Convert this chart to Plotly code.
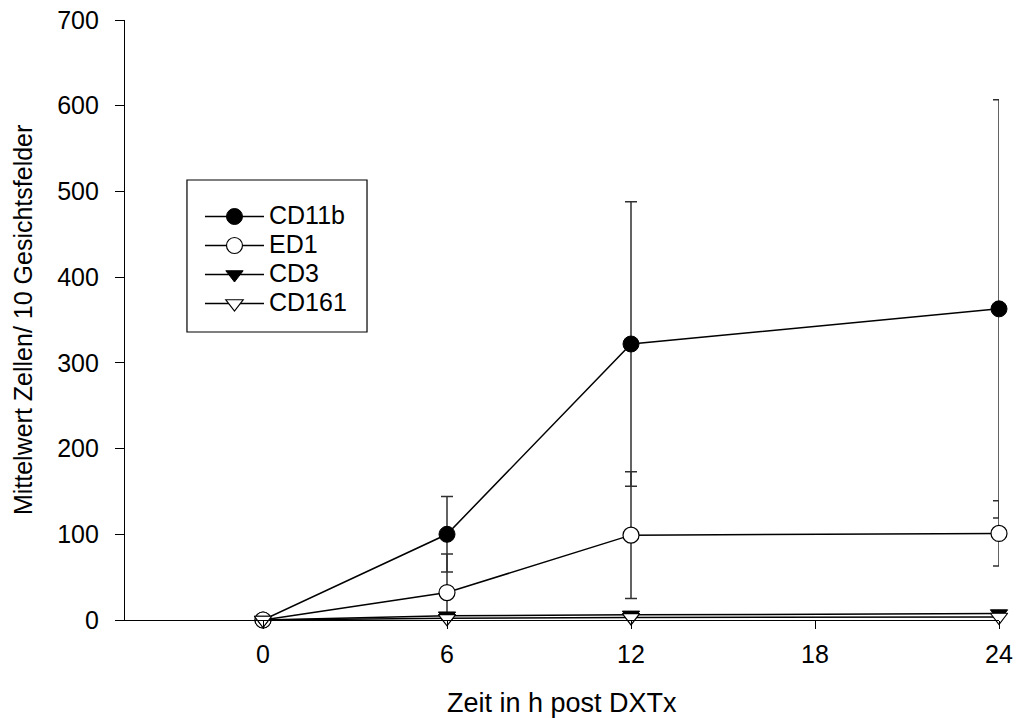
import plotly.graph_objects as go

hours = [0, 6, 12, 24]
x_ticks = [0, 6, 12, 18, 24]
y_ticks = [0, 100, 200, 300, 400, 500, 600, 700]

cd11b = [0, 100, 322, 363]
cd11b_err = [0, 44, 166, 244]
ed1 = [0, 32, 99, 101]
ed1_err_plus = [0, 45, 74, 38]
ed1_err_minus = [0, 32, 74, 38]
cd3 = [0, 5, 6, 7.5]
cd161 = [0, 2, 3, 3.5]

FONT = "Liberation Sans, Arial, sans-serif"
LEG_TXT = '<span style="font-size:25px">{}</span>'

fig = go.Figure()

err_style = dict(type="data", color="#303030", thickness=1.5, width=6)

fig.add_trace(go.Scatter(
    x=hours, y=cd11b, name=LEG_TXT.format("CD11b"), mode="lines+markers",
    line=dict(color="black", width=1.5),
    marker=dict(symbol="circle", size=16, color="black", line=dict(color="black", width=1)),
    error_y=dict(array=cd11b_err, **err_style),
    cliponaxis=False,
))
fig.add_trace(go.Scatter(
    x=hours, y=ed1, name=LEG_TXT.format("ED1"), mode="lines+markers",
    line=dict(color="black", width=1.5),
    marker=dict(symbol="circle", size=16, color="white", line=dict(color="black", width=1.2)),
    error_y=dict(array=ed1_err_plus, arrayminus=ed1_err_minus, symmetric=False, **err_style),
    cliponaxis=False,
))
fig.add_trace(go.Scatter(
    x=hours, y=cd3, name=LEG_TXT.format("CD3"), mode="lines+markers",
    line=dict(color="black", width=1.5),
    marker=dict(symbol="triangle-down", size=15, color="black", line=dict(color="black", width=1)),
    cliponaxis=False,
))
fig.add_trace(go.Scatter(
    x=hours, y=cd161, name=LEG_TXT.format("CD161"), mode="lines+markers",
    line=dict(color="black", width=1.5),
    marker=dict(symbol="triangle-down", size=15, color="white", line=dict(color="black", width=1.2)),
    cliponaxis=False,
))

fig.update_layout(
    width=1005, height=710,
    margin=dict(l=117, r=14, t=12, b=98, autoexpand=False),
    paper_bgcolor="white", plot_bgcolor="white",
    font=dict(family=FONT, size=25, color="black"),
    showlegend=True,
    legend=dict(
        x=0.0858, y=0.705, xanchor="left", yanchor="top",
        bgcolor="rgba(0,0,0,0)", borderwidth=0,
        font=dict(family=FONT, size=20, color="black"),
        itemwidth=59,
        tracegroupgap=0,
    ),
    shapes=[dict(
        type="rect", xref="paper", yref="paper",
        x0=0.0709, x1=0.2769, y0=0.48, y1=0.7333,
        line=dict(color="black", width=1.2), fillcolor="rgba(0,0,0,0)",
        layer="above",
    )],
    annotations=[
        dict(text="Zeit in h post DXTx", xref="paper", yref="paper",
             x=0.5, y=-0.138, xanchor="center", yanchor="middle", showarrow=False,
             font=dict(family=FONT, size=27, color="black")),
        dict(text="Mittelwert Zellen/ 10 Gesichtsfelder", xref="paper", yref="paper",
             x=-0.1166, y=0.5, xanchor="center", yanchor="middle", showarrow=False,
             textangle=-90, font=dict(family=FONT, size=25, color="black")),
    ],
)

fig.update_xaxes(
    range=[-4.5, 24], tickvals=x_ticks, ticktext=[str(v) for v in x_ticks],
    showline=True, linecolor="black", linewidth=1.2,
    ticks="outside", ticklen=8, tickwidth=1, tickcolor="black",
    showgrid=False, zeroline=False, automargin=False,
    tickfont=dict(family=FONT, size=25),
    ticklabelstandoff=4, ticklabeloverflow="allow",
)
fig.update_yaxes(
    range=[0, 700], tickvals=y_ticks, ticktext=[str(v) for v in y_ticks],
    showline=True, linecolor="black", linewidth=1.2,
    ticks="outside", ticklen=9, tickwidth=1, tickcolor="black",
    showgrid=False, zeroline=False, automargin=False,
    tickfont=dict(family=FONT, size=25),
    ticklabelstandoff=11, ticklabeloverflow="allow",
)

fig.write_html("out.html", default_width="1005px", default_height="710px")
